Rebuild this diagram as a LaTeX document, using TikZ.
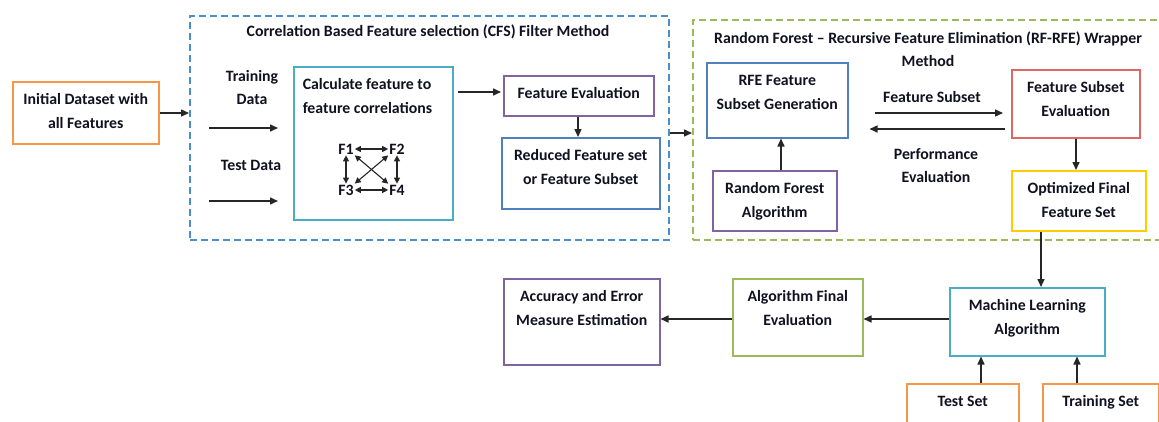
\documentclass[tikz,border=0pt]{standalone}
\usepackage{fontspec}
\setmainfont{Carlito}
\usetikzlibrary{arrows.meta,calc}

\definecolor{cOrange}{HTML}{F79646}
\definecolor{cAqua}{HTML}{4BACC6}
\definecolor{cPurple}{HTML}{8064A2}
\definecolor{cBlue}{HTML}{4F81BD}
\definecolor{cRed}{HTML}{E06666}
\definecolor{cGold}{HTML}{FFCC00}
\definecolor{cGreen}{HTML}{9BBB59}
\definecolor{cDashBlue}{HTML}{4A8FCB}
\definecolor{cInk}{HTML}{111122}

% box contents: width, height, lines (first baseline 23pt below the top edge)
\newcommand\boxtext[3]{\parbox[c][#2pt][t]{#1pt}{\centering\rule{0pt}{23pt}#3}}
\newcommand\boxtextleft[3]{\parbox[c][#2pt][t]{#1pt}{\raggedright\hspace*{9pt}\rule{0pt}{23pt}#3}}

\tikzset{
  txt/.style={font=\bfseries\fontsize{15.8}{23.5}\selectfont, text=cInk},
  box/.style={txt, draw, line width=1.5pt, inner sep=0pt, anchor=north west},
  group/.style={draw, line width=1.8pt, dash pattern=on 7pt off 4pt,
    anchor=north west, inner sep=0pt},
  lbl/.style={txt, align=center, inner sep=0pt},
  arr/.style={-{Triangle[length=8pt,width=7pt]}, line width=1.5pt, draw=black!85},
  farr/.style={{Triangle[length=6pt,width=6pt]}-{Triangle[length=6pt,width=6pt]},
    line width=1.1pt, draw=black!85},
  fnode/.style={txt, inner sep=1pt}
}

\begin{document}
\begin{tikzpicture}[x=1pt, y=-1pt]
\useasboundingbox (0,0) rectangle (1159,421);
\clip (0,0) rectangle (1159,421);
\fill[white] (0,0) rectangle (1159,421);

% dashed method containers
\node[group, draw=cDashBlue, minimum width=479pt, minimum height=224pt] (cfs) at (189,15) {};
\node[group, draw=cGreen, minimum width=485pt, minimum height=220pt] (rfw) at (692,19) {};

% container titles and free labels
\node[lbl] (cfstitle) at (428,32) {Correlation Based Feature selection (CFS) Filter Method};
\node[lbl] (rftitle) at (928,49) {Random Forest -- Recursive Feature Elimination (RF-RFE) Wrapper\\Method};
\node[lbl] (trainlbl) at (252,87.5) {Training\\Data};
\node[lbl] (testlbl) at (251,165) {Test Data};
\node[lbl] (subsetlbl) at (932,97) {Feature Subset};
\node[lbl] (perflbl) at (936,165.5) {Performance\\Evaluation};

% boxes
\node[box, draw=cOrange] (init) at (12,81) {\boxtext{146}{62}{Initial Dataset with\\all Features}};
\node[box, draw=cAqua] (calc) at (293,66) {\boxtextleft{159}{153}{Calculate feature to\\\hspace*{9pt}feature correlations}};
\node[box, draw=cPurple] (feval) at (503,75) {\boxtext{150}{40}{Feature Evaluation}};
\node[box, draw=cBlue] (reduced) at (501,137) {\boxtext{158}{71}{Reduced Feature set\\or Feature Subset}};
\node[box, draw=cBlue] (rfe) at (706,62) {\boxtext{141}{75}{RFE Feature\\Subset Generation}};
\node[box, draw=cPurple] (rf) at (712,170) {\boxtext{124}{60}{Random Forest\\Algorithm}};
\node[box, draw=cRed] (fse) at (1011,69) {\boxtext{128}{68}{Feature Subset\\Evaluation}};
\node[box, draw=cGold] (opt) at (1011,170) {\boxtext{134}{60}{Optimized Final\\Feature Set}};
\node[box, draw=cAqua] (ml) at (949,287) {\boxtext{155}{68}{Machine Learning\\Algorithm}};
\node[box, draw=cGreen] (afe) at (732,278) {\boxtext{130}{77}{Algorithm Final\\Evaluation}};
\node[box, draw=cPurple] (acc) at (503,278) {\boxtext{156}{86}{Accuracy and Error\\Measure Estimation}};
\node[box, draw=cOrange] (testset) at (906,383) {\boxtext{112}{60}{Test Set}};
\node[box, draw=cOrange] (trainset) at (1042,383) {\boxtext{116}{60}{Training Set}};

% feature correlation graph
\node[fnode] (f1) at (346,149) {F1};
\node[fnode] (f2) at (397,149) {F2};
\node[fnode] (f3) at (346,190) {F3};
\node[fnode] (f4) at (397,190) {F4};
\draw[farr] (f1) -- (f2);
\draw[farr] (f3) -- (f4);
\draw[farr] (f1) -- (f3);
\draw[farr] (f2) -- (f4);
\draw[farr] (f1.south east) -- (f4.north west);
\draw[farr] (f2.south west) -- (f3.north east);

% input data arrows
\coordinate (trainA) at (209,128);
\coordinate (trainB) at (278,128);
\coordinate (testA) at (209,201);
\coordinate (testB) at (278,201);
\draw[arr] (trainA) -- (trainB);
\draw[arr] (testA) -- (testB);

% flow connectors
\draw[arr] (init.east |- 0,113) -- (cfs.west |- 0,113);
\draw[arr, shorten <=4pt, shorten >=2pt] (calc.east |- 0,92) -- (feval.west |- 0,92);
\draw[arr] (feval.south -| 578,0) -- (reduced.north -| 578,0);
\draw[arr] (cfs.east |- 0,133) -- (rfw.west |- 0,133);
\draw[arr] (rf.north -| 781,0) -- (rfe.south -| 781,0);
\draw[arr, shorten <=26pt, shorten >=8pt] (rfe.east |- 0,113) -- (fse.west |- 0,113);
\draw[arr, shorten <=6pt, shorten >=21pt] (fse.west |- 0,129) -- (rfe.east |- 0,129);
\draw[arr] (fse.south -| 1076,0) -- (opt.north -| 1076,0);
\draw[arr] (opt.south -| 1041,0) -- (ml.north -| 1041,0);
\draw[arr] (ml.west |- 0,319) -- (afe.east |- 0,319);
\draw[arr] (afe.west |- 0,319) -- (acc.east |- 0,319);
\draw[arr] (testset.north -| 981,0) -- (ml.south -| 981,0);
\draw[arr] (trainset.north -| 1077,0) -- (ml.south -| 1077,0);
\end{tikzpicture}
\end{document}
